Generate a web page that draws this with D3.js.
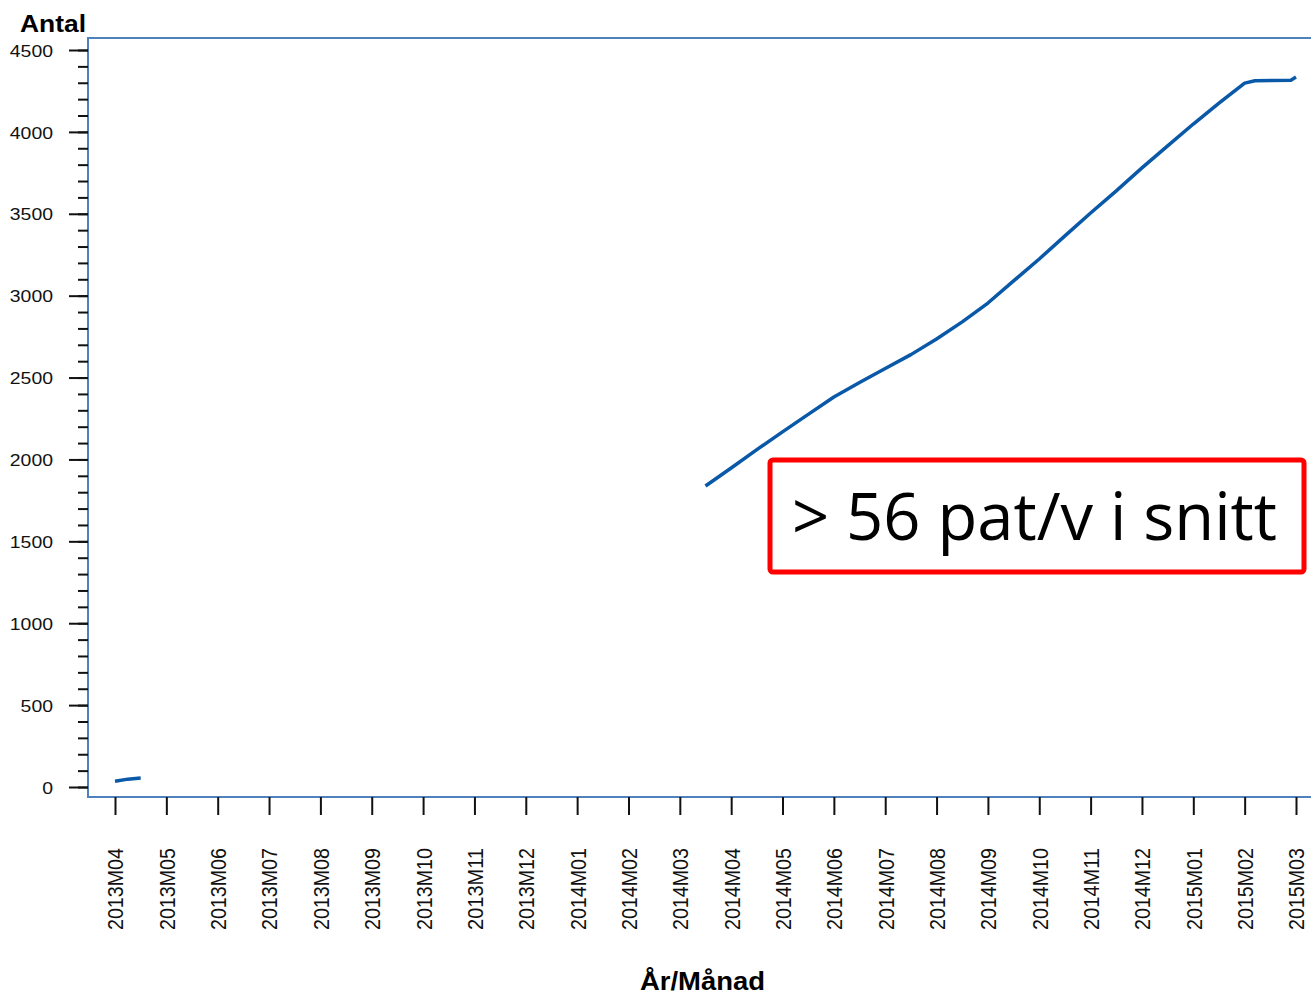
<!DOCTYPE html>
<html>
<head>
<meta charset="utf-8">
<script src="https://cdn.jsdelivr.net/npm/d3@7"></script>
<style>
  body { margin: 0; background: #fff; }
</style>
</head>
<body>
<div id="chart"></div>
<script>
const width = 1311,
  height = 997;

// Months on the x axis
const months = [
  "2013M04", "2013M05", "2013M06", "2013M07", "2013M08", "2013M09",
  "2013M10", "2013M11", "2013M12", "2014M01", "2014M02", "2014M03",
  "2014M04", "2014M05", "2014M06", "2014M07", "2014M08", "2014M09",
  "2014M10", "2014M11", "2014M12", "2015M01", "2015M02", "2015M03"
];

// Cumulative count, [month index, value], two separate pieces
const firstPiece = [[0, 35], [0.25, 48], [0.5, 55]];
const secondPiece = [
  [11.5, 1838], [12, 1948], [12.5, 2060], [13, 2168], [13.5, 2275],
  [14, 2381], [14.5, 2470], [15, 2555], [15.5, 2640], [16, 2735],
  [16.5, 2840], [17, 2955], [17.5, 3090], [18, 3224], [18.5, 3365],
  [19, 3505], [19.5, 3640], [20, 3780], [20.5, 3915], [21, 4048],
  [21.5, 4175], [22, 4298], [22.2, 4312], [22.9, 4316], [23, 4335]
];

const yMajor = [0, 500, 1000, 1500, 2000, 2500, 3000, 3500, 4000, 4500];
const yMinor = d3.range(0, 4501, 100);

const plot = { left: 88, top: 38, right: 1312, bottom: 797 };

const svg = d3
  .select("#chart")
  .append("svg")
  .attr("width", width)
  .attr("height", height);

const x = d3.scaleLinear().domain([0, 23]).range([115, 1296]);
const y = d3.scaleLinear().domain([0, 4500]).range([787, 50]);

// Plot frame
svg
  .append("rect")
  .attr("x", plot.left)
  .attr("y", plot.top)
  .attr("width", plot.right - plot.left)
  .attr("height", plot.bottom - plot.top)
  .attr("fill", "none")
  .attr("stroke", "#4f81bd")
  .attr("stroke-width", 2);

// Y axis: minor ticks first, then major ticks with labels
svg
  .append("g")
  .attr("transform", `translate(${plot.left},0)`)
  .call(d3.axisLeft(y).tickValues(yMinor).tickSize(10).tickFormat(""))
  .call((g) => g.select(".domain").remove())
  .call((g) => g.selectAll("line").attr("stroke", "#111").attr("stroke-width", 2));

svg
  .append("g")
  .attr("transform", `translate(${plot.left},0)`)
  .call(d3.axisLeft(y).tickValues(yMajor).tickSize(19).tickPadding(16).tickFormat(d3.format("d")))
  .call((g) => g.select(".domain").remove())
  .call((g) => g.selectAll("line").attr("stroke", "#111").attr("stroke-width", 2))
  .call((g) =>
    g
      .selectAll("text")
      .attr("fill", "#111")
      .attr("font-family", "Arial, 'Liberation Sans', sans-serif")
      .attr("font-size", 17)
      .attr("dy", "0.36em")
      .attr("textLength", (d) => String(d).length * 10.8)
      .attr("lengthAdjust", "spacingAndGlyphs")
  );

// X axis
svg
  .append("g")
  .attr("transform", `translate(0,${plot.bottom})`)
  .call(
    d3
      .axisBottom(x)
      .tickValues(d3.range(months.length))
      .tickSize(18)
      .tickFormat((i) => months[i])
  )
  .call((g) => g.select(".domain").remove())
  .call((g) => g.selectAll("line").attr("stroke", "#111").attr("stroke-width", 2))
  .call((g) =>
    g
      .selectAll("text")
      .attr("fill", "#111")
      .attr("font-family", "Arial, 'Liberation Sans', sans-serif")
      .attr("font-size", 22)
      .attr("text-anchor", "end")
      .attr("transform", "rotate(-90)")
      .attr("x", -51)
      .attr("y", 0)
      .attr("dy", "0.36em")
      .attr("textLength", 82)
      .attr("lengthAdjust", "spacingAndGlyphs")
  );

// Data line
const line = d3
  .line()
  .x((d) => x(d[0]))
  .y((d) => y(d[1]));

[firstPiece, secondPiece].forEach((piece) => {
  svg
    .append("path")
    .datum(piece)
    .attr("d", line)
    .attr("fill", "none")
    .attr("stroke", "#0a58a8")
    .attr("stroke-width", 3.5)
    .attr("stroke-linejoin", "round");
});

// Axis titles
svg
  .append("text")
  .attr("x", 20)
  .attr("y", 32)
  .attr("font-family", "Arial, 'Liberation Sans', sans-serif")
  .attr("font-weight", "bold")
  .attr("font-size", 24)
  .attr("textLength", 66)
  .attr("lengthAdjust", "spacingAndGlyphs")
  .text("Antal");

svg
  .append("text")
  .attr("x", 640)
  .attr("y", 990)
  .attr("font-family", "Arial, 'Liberation Sans', sans-serif")
  .attr("font-weight", "bold")
  .attr("font-size", 25)
  .attr("textLength", 125)
  .attr("lengthAdjust", "spacingAndGlyphs")
  .text("År/Månad");

// Annotation box
svg
  .append("rect")
  .attr("x", 770)
  .attr("y", 460)
  .attr("width", 534)
  .attr("height", 112)
  .attr("rx", 3)
  .attr("fill", "#fff")
  .attr("stroke", "#ff0000")
  .attr("stroke-width", 5);

svg
  .append("text")
  .attr("x", 792)
  .attr("y", 540)
  .attr("font-family", "'Open Sans', 'Noto Sans', sans-serif")
  .attr("font-size", 66)
  .attr("textLength", 485)
  .attr("lengthAdjust", "spacingAndGlyphs")
  .attr("fill", "#000")
  .text("> 56 pat/v i snitt");
</script>
</body>
</html>
